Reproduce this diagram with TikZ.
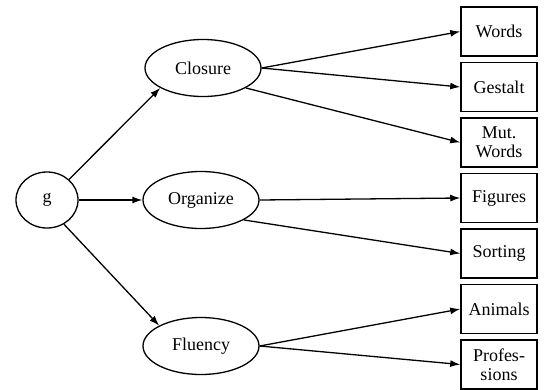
\documentclass[tikz,border=0pt]{standalone}
\usepackage{fontspec}
\setmainfont{Liberation Serif}
\usetikzlibrary{shapes.geometric, positioning, arrows.meta}
\tikzset {
    ->,
    >={Latex[length=10pt, width=7pt]},
    node distance=55.5pt,
    every node/.style={font=\fontsize{18}{19}\selectfont},
    factor/.style={ellipse, draw, -, line width=1.3pt, minimum width=116pt, minimum height=57pt},
    task/.style={rectangle, draw, -, line width=1.5pt, minimum width=76pt, minimum height=49pt, align=center, inner sep=1pt}
}

\begin{document}
\begin{tikzpicture}[x=1pt, y=-1pt, line width=1.3pt]
                \useasboundingbox (0,0) rectangle (549,389);
                \node[factor, minimum width=62pt, minimum height=56pt] (g) at (47,200) {g};
                \node[factor, right of=g, node distance=154pt] (organize) {Organize};
                \node[factor, above of=organize, node distance=132pt, xshift=2pt] (closure) {Closure};
                \node[factor, below of=organize, node distance=146pt] (fluency) {Fluency};

                \node[task] (words) at (499,31.5) {Words};
                \node[task, below of=words] (gestalt) {Gestalt};
                \node[task, below of=gestalt] (mutwords) {Mut.\\Words};
                \node[task, below of=mutwords] (figures) {Figures};
                \node[task, below of=figures] (sorting) {Sorting};
                \node[task, below of=sorting] (animals) {Animals};
                \node[task, below of=animals] (professions) {Profes-\\sions};

                \path
                (g.east) edge (organize.west)
                (g.43) edge (closure.205)
                (g.-55) edge (fluency.154)
                (closure.east) edge (words.west)
                (closure.east) edge (gestalt.west)
                (closure.-25) edge (mutwords.west)
                (organize.east) edge (figures.west)
                (organize.-25) edge (sorting.west)
                (fluency.east) edge (animals.west)
                (fluency.east) edge (professions.west);
            \end{tikzpicture}
\end{document}
